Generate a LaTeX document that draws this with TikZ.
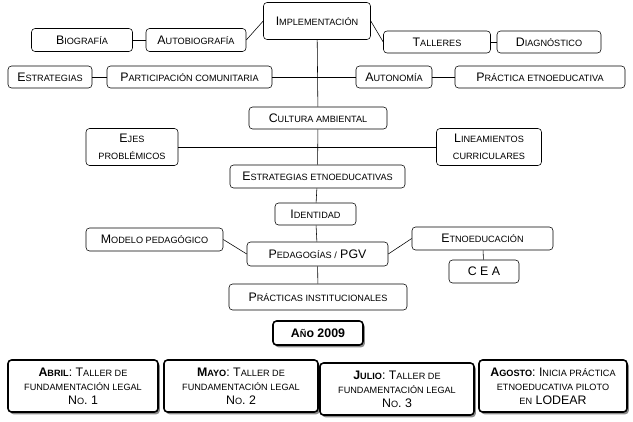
\documentclass[tikz,border=0pt]{standalone}
\usepackage{fontspec}
\setmainfont{Liberation Sans}
\usetikzlibrary{shadows}
% fake small caps: first letter, then the rest in small capitals
\newcommand{\fsc}[2]{#1{\fontsize{6.5}{7.5}\selectfont\MakeUppercase{#2}}}
\newcommand{\asc}[1]{{\fontsize{6.5}{7.5}\selectfont\MakeUppercase{#1}}}
\begin{document}
\begin{tikzpicture}[x=0.025cm,y=-0.025cm]
\tikzstyle{box}=[draw, rounded corners=2.5pt, fill=white, inner sep=0pt, font=\fontsize{8.8}{10}\selectfont, align=center]
\tikzstyle{year}=[box, line width=1.1pt, drop shadow={shadow xshift=1.3pt, shadow yshift=-1.6pt, fill=black!45, opacity=1}]
\useasboundingbox (0,0) rectangle (633,422);
\node [box, minimum width=107*0.025cm, minimum height=37*0.025cm] (impl) at (317,21) {\fsc{I}{mplementación}};
\node [box, minimum width=100*0.025cm, minimum height=23*0.025cm] (autob) at (196,40) {\fsc{A}{utobiografía}};
\node [box, minimum width=101*0.025cm, minimum height=23*0.025cm] (biog) at (82,40) {\fsc{B}{iografía}};
\node [box, minimum width=107*0.025cm, minimum height=22*0.025cm] (tall) at (437,42) {\fsc{T}{alleres}};
\node [box, minimum width=104*0.025cm, minimum height=22*0.025cm] (diag) at (549,42) {\fsc{D}{iagnóstico}};
\node [box, minimum width=84*0.025cm, minimum height=22*0.025cm] (estr) at (50,77) {\fsc{E}{strategias}};
\node [box, minimum width=165*0.025cm, minimum height=22*0.025cm] (part) at (189.5,77) {\fsc{P}{articipación comunitaria}};
\node [box, minimum width=76*0.025cm, minimum height=22*0.025cm] (auto) at (394,77) {\fsc{A}{utonomía}};
\node [box, minimum width=170*0.025cm, minimum height=22*0.025cm] (prac) at (540,77) {\fsc{P}{ráctica etnoeducativa}};
\node [box, minimum width=138*0.025cm, minimum height=22*0.025cm] (cult) at (318,118) {\fsc{C}{ultura ambiental}};
\node [box, minimum width=92*0.025cm, minimum height=37*0.025cm] (ejes) at (132,147) {\fsc{E}{jes}\\[2pt]\asc{problémicos}};
\node [box, minimum width=105*0.025cm, minimum height=37*0.025cm] (line) at (489,147) {\fsc{L}{ineamientos}\\[2pt]\asc{curriculares}};
\node [box, minimum width=175*0.025cm, minimum height=23*0.025cm] (etno) at (317.5,176.5) {\fsc{E}{strategias etnoeducativas}};
\node [box, minimum width=81*0.025cm, minimum height=22*0.025cm] (iden) at (315.5,214) {\fsc{I}{dentidad}};
\node [box, minimum width=137*0.025cm, minimum height=23*0.025cm] (peda) at (154.5,239.5) {\fsc{M}{odelo pedagógico}};
\node [box, minimum width=141*0.025cm, minimum height=24*0.025cm] (pgv) at (317.5,254) {\fsc{P}{edagogías /} PGV};
\node [box, minimum width=141*0.025cm, minimum height=23*0.025cm] (etedu) at (482.5,238.5) {\fsc{E}{tnoeducación}};
\node [box, minimum width=70*0.025cm, minimum height=23*0.025cm] (cea) at (484,271.5) {C E A};
\node [box, minimum width=178*0.025cm, minimum height=26*0.025cm] (inst) at (318,297) {\fsc{P}{rácticas institucionales}};
\node [year, minimum width=90*0.025cm, minimum height=24*0.025cm, font=\bfseries\fontsize{8.8}{10}\selectfont] (anio) at (318,333) {A{\fontsize{6.5}{7.5}\selectfont Ñ}o 2009};
\node [year, minimum width=150*0.025cm, minimum height=52*0.025cm] (abr) at (83,386) {\textbf{\fsc{A}{bril}}: \fsc{T}{aller de}\\\asc{fundamentación legal}\\N{\fontsize{6.5}{7.5}\selectfont O}. 1};
\node [year, minimum width=154*0.025cm, minimum height=52*0.025cm] (may) at (241,386) {\textbf{\fsc{M}{ayo}}: \fsc{T}{aller de}\\\asc{fundamentación legal}\\N{\fontsize{6.5}{7.5}\selectfont O}. 2};
\node [year, minimum width=154*0.025cm, minimum height=52*0.025cm] (jul) at (397,389) {\textbf{\fsc{J}{ulio}}: \fsc{T}{aller de}\\\asc{fundamentación legal}\\N{\fontsize{6.5}{7.5}\selectfont O}. 3};
\node [year, minimum width=148*0.025cm, minimum height=52*0.025cm] (ago) at (553,386) {\textbf{\fsc{A}{gosto}}: \fsc{I}{nicia práctica}\\\asc{etnoeducativa piloto}\\\asc{en} LODEAR};
\begin{scope}[on background layer/.try]
\draw (autob.east) -- (impl.west);
\draw (impl.east) -- (tall.west);
\draw (biog) -- (autob);
\draw (tall) -- (diag);
\draw (estr) -- (part);
\draw (auto) -- (prac);
\draw (part) -- (auto);
\draw (impl) -- (cult);
\draw (cult) -- (etno);
\draw (ejes) -- (line);
\draw (etno) -- (iden);
\draw (iden) -- (pgv);
\draw (pgv) -- (inst);
\draw (peda.east) -- (pgv.west);
\draw (pgv.east) -- (etedu.west);
\draw (etedu) -- (cea);
\end{scope}
\end{tikzpicture}
\end{document}
